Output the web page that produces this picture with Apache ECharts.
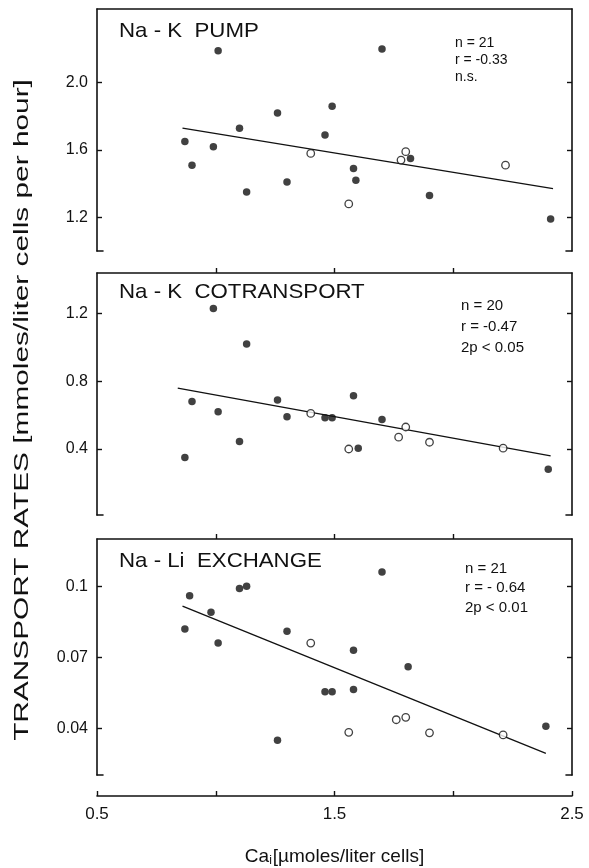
<!DOCTYPE html>
<html>
<head>
<meta charset="utf-8">
<script src="https://cdn.jsdelivr.net/npm/echarts@6/dist/echarts.min.js"></script>
<style>
  html, body { margin: 0; padding: 0; background: #fff; }
  #chart { width: 589px; height: 868px; }
</style>
</head>
<body>
<div id="chart"></div>
<script>
// ---------- data ----------
const xTicks = [0.5, 1.0, 1.5, 2.0, 2.5];
const xLabelValues = [0.5, 1.5, 2.5];
const xInnerTicks = [1.0, 1.5, 2.0];

// Panel 1: Na-K pump
const pumpFilledX = [1.01, 1.70, 1.26, 1.49, 1.10, 1.46, 0.87, 0.99, 0.90, 1.82, 1.58, 1.59, 1.30, 1.13, 1.90, 2.41];
const pumpFilledY = [2.19, 2.20, 1.82, 1.86, 1.73, 1.69, 1.65, 1.62, 1.51, 1.55, 1.49, 1.42, 1.41, 1.35, 1.33, 1.19];
const pumpOpenX = [1.40, 1.78, 1.80, 2.22, 1.56];
const pumpOpenY = [1.58, 1.54, 1.59, 1.51, 1.28];
const pumpLineX = [0.86, 2.42];
const pumpLineY = [1.73, 1.37];
const pumpTicks = [1.2, 1.6, 2.0];
const pumpTickLabels = ['1.2', '1.6', '2.0'];
const pumpStats = ['n = 21', 'r = -0.33', 'n.s.'];

// Panel 2: Na-K cotransport
const cotFilledX = [0.99, 1.13, 0.90, 1.26, 1.58, 1.01, 1.30, 1.46, 1.49, 1.70, 1.10, 1.60, 0.87, 2.40];
const cotFilledY = [1.23, 1.02, 0.68, 0.69, 0.715, 0.62, 0.59, 0.585, 0.585, 0.575, 0.445, 0.405, 0.35, 0.28];
const cotOpenX = [1.40, 1.80, 1.77, 1.90, 2.21, 1.56];
const cotOpenY = [0.61, 0.53, 0.47, 0.44, 0.405, 0.40];
const cotLineX = [0.84, 2.41];
const cotLineY = [0.76, 0.36];
const cotTicks = [0.4, 0.8, 1.2];
const cotTickLabels = ['0.4', '0.8', '1.2'];
const cotStats = ['n = 20', 'r = -0.47', '2p < 0.05'];

// Panel 3: Na-Li exchange
const exFilledX = [1.70, 0.89, 1.10, 1.13, 0.98, 0.87, 1.30, 1.01, 1.58, 1.81, 1.46, 1.49, 1.58, 1.26, 2.39];
const exFilledY = [0.106, 0.096, 0.099, 0.100, 0.089, 0.082, 0.081, 0.076, 0.073, 0.066, 0.0555, 0.0555, 0.0565, 0.035, 0.041];
const exOpenX = [1.40, 1.76, 1.80, 1.56, 1.90, 2.21];
const exOpenY = [0.076, 0.0437, 0.0447, 0.0384, 0.0382, 0.0373];
const exLineX = [0.86, 2.39];
const exLineY = [0.0916, 0.0295];
const exTicks = [0.04, 0.07, 0.1];
const exTickLabels = ['0.04', '0.07', '0.1'];
const exStats = ['n = 21', 'r = - 0.64', '2p < 0.01'];

const panelTitles = ['Na - K  PUMP', 'Na - K  COTRANSPORT', 'Na - Li  EXCHANGE'];
const yAxisTitle = 'TRANSPORT RATES [mmoles/liter cells per hour]';

// ---------- layout ----------
const FONT = 'Liberation Sans, Arial, sans-serif';
const LEFT = 97, WIDTH = 475, H = 242;
const panels = [
  { top: 9,   min: 1.0,   max: 2.438, ticks: pumpTicks, labels: pumpTickLabels, topTicks: false },
  { top: 273, min: 0.01,  max: 1.44,  ticks: cotTicks,  labels: cotTickLabels,  topTicks: true },
  { top: 539, min: 0.0204, max: 0.1199, ticks: exTicks, labels: exTickLabels,   topTicks: true }
];
const zip = (a, b) => a.map((v, i) => [v, b[i]]);

const grid = [], xAxis = [], yAxis = [], series = [];
const blk = '#111';
panels.forEach((p, i) => {
  grid.push({ left: LEFT, width: WIDTH, top: p.top, height: H, containLabel: false });
  // bottom "hook" line
  xAxis.push({
    gridIndex: i, type: 'value', min: 0.5, max: 2.5, position: 'bottom',
    axisLine: { show: true, onZero: false, lineStyle: { color: blk, width: 1.6, type: [6, 463] } },
    axisTick: { show: false }, axisLabel: { show: false }, splitLine: { show: false }
  });
  // top line
  xAxis.push({
    gridIndex: i, type: 'value', min: 0.5, max: 2.5, position: 'top',
    axisLine: { show: true, onZero: false, lineStyle: { color: blk, width: 1.6 } },
    axisTick: { show: p.topTicks, inside: false, length: 5, customValues: xInnerTicks, lineStyle: { color: blk, width: 1.4 } },
    axisLabel: { show: false }, splitLine: { show: false }
  });
  const lbl = p.labels;
  const tk = p.ticks;
  yAxis.push({
    gridIndex: i, type: 'value', min: p.min, max: p.max, position: 'left',
    axisLine: { show: true, onZero: false, lineStyle: { color: blk, width: 1.6 } },
    axisTick: { show: true, inside: true, length: 5, customValues: tk, lineStyle: { color: blk, width: 1.4 } },
    axisLabel: {
      show: true, customValues: tk, margin: 9, color: blk, fontSize: 16, fontFamily: FONT,
      formatter: v => { const k = tk.findIndex(t => Math.abs(t - v) < 1e-9); return k >= 0 ? lbl[k] : ''; }
    },
    splitLine: { show: false }
  });
  yAxis.push({
    gridIndex: i, type: 'value', min: p.min, max: p.max, position: 'right',
    axisLine: { show: true, onZero: false, lineStyle: { color: blk, width: 1.6 } },
    axisTick: { show: true, inside: true, length: 5, customValues: tk, lineStyle: { color: blk, width: 1.4 } },
    axisLabel: { show: false }, splitLine: { show: false }
  });
});
// main x axis below panel 3
xAxis.push({
  gridIndex: 2, type: 'value', min: 0.5, max: 2.5, interval: 0.5, position: 'bottom', offset: 21,
  axisLine: { show: true, onZero: false, lineStyle: { color: blk, width: 1.6 } },
  axisTick: { show: true, inside: true, length: 5, customValues: xTicks, lineStyle: { color: blk, width: 1.4 } },
  axisLabel: { show: true, customValues: xLabelValues, margin: 10, color: blk, fontSize: 17, fontFamily: FONT,
    formatter: v => v.toFixed(1) },
  splitLine: { show: false },
  name: '{a|Ca}{s|i}{a|[µmoles/liter cells]}', nameLocation: 'middle', nameGap: 50,
  nameTextStyle: { rich: {
    a: { fontSize: 19, fontFamily: FONT, color: blk },
    s: { fontSize: 12, fontFamily: FONT, color: blk, verticalAlign: 'bottom', padding: [9, 1, 0, 0] }
  } }
});

const sets = [
  [pumpFilledX, pumpFilledY, pumpOpenX, pumpOpenY, pumpLineX, pumpLineY],
  [cotFilledX, cotFilledY, cotOpenX, cotOpenY, cotLineX, cotLineY],
  [exFilledX, exFilledY, exOpenX, exOpenY, exLineX, exLineY]
];
sets.forEach((s, i) => {
  const xi = i * 2, yi = i * 2;
  series.push({
    type: 'line', xAxisIndex: xi, yAxisIndex: yi, data: zip(s[4], s[5]), symbol: 'none',
    lineStyle: { color: blk, width: 1.3 }, silent: true, z: 1, animation: false
  });
  series.push({
    type: 'scatter', xAxisIndex: xi, yAxisIndex: yi, data: zip(s[0], s[1]), symbol: 'circle', symbolSize: 7.5,
    itemStyle: { color: blk }, z: 2, animation: false
  });
  series.push({
    type: 'scatter', xAxisIndex: xi, yAxisIndex: yi, data: zip(s[2], s[3]), symbol: 'circle', symbolSize: 7.5,
    itemStyle: { color: '#fff', borderColor: blk, borderWidth: 1.3 }, z: 3, animation: false
  });
});

const statSets = [pumpStats, cotStats, exStats];
const statPos = [[455, 35, 14, 17], [461, 295, 15, 21], [465, 559, 15, 19.5]];
const titlePos = [[119, 31], [119, 292], [119, 561]];
const graphic = [];
panelTitles.forEach((t, i) => {
  graphic.push({ type: 'text', x: titlePos[i][0], y: titlePos[i][1], scaleX: 1.06,
    style: { text: t, fill: blk, font: '21px ' + FONT, textVerticalAlign: 'middle' } });
  graphic.push({ type: 'text', x: statPos[i][0], y: statPos[i][1],
    style: { text: statSets[i].join('\n'), fill: blk, font: statPos[i][2] + 'px ' + FONT,
      lineHeight: statPos[i][3], textVerticalAlign: 'top' } });
});
graphic.push({ type: 'text', x: 22, y: 410, rotation: Math.PI / 2, scaleX: 1.42,
  style: { text: yAxisTitle, fill: blk, font: '21px ' + FONT, textAlign: 'center', textVerticalAlign: 'middle' } });

const chart = echarts.init(document.getElementById('chart'), null, { renderer: 'canvas' });
chart.setOption({
  animation: false,
  backgroundColor: '#fff',
  grid, xAxis, yAxis, series, graphic
});
</script>
</body>
</html>
